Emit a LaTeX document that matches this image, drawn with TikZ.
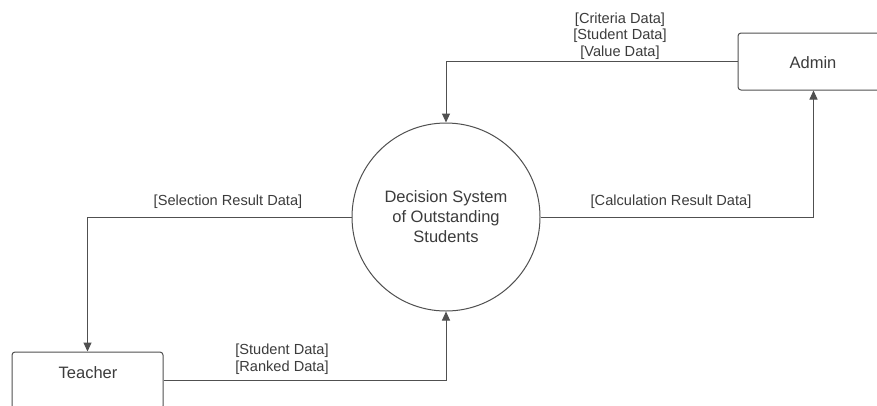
\documentclass[tikz,border=0pt]{standalone}
\usepackage{fontspec}
\setmainfont{Liberation Sans}
\usetikzlibrary{arrows.meta}
\definecolor{linec}{RGB}{80,80,80}
\definecolor{textc}{RGB}{60,60,60}
\tikzset{
  entity/.style={draw=linec, line width=1pt, rounded corners=3pt, minimum width=151pt, minimum height=57pt, inner sep=0pt},
  process/.style={draw=linec, line width=1pt, circle, minimum size=188pt, inner sep=0pt, align=center, text=textc, font=\fontsize{16.5}{20}\selectfont},
  ntext/.style={text=textc, font=\fontsize{16.5}{20}\selectfont, inner sep=0pt},
  flow/.style={draw=linec, line width=1pt, -{Triangle[width=8pt,length=9pt]}},
  flab/.style={text=textc, font=\fontsize{14.6}{16.5}\selectfont, align=center, inner sep=0pt}
}
\begin{document}
\begin{tikzpicture}[x=1pt,y=-1pt]
\useasboundingbox (0,0) rectangle (877,405);
\clip (0,0) rectangle (877,405);
\fill[white] (0,0) rectangle (877,405);
\node[process] (sys) at (446,217) {Decision System\\of Outstanding\\Students};
\node[entity] (admin) at (813.5,61.5) {};
\node[ntext] (admintxt) at (813,63) {Admin};
\node[entity] (teacher) at (87.5,380.5) {};
\node[ntext] (teachertxt) at (88,373) {Teacher};
\draw[flow] (admin.west) -| (sys.north);
\draw[flow] (sys.east) -| (admin.south);
\draw[flow] (sys.west) -| (teacher.north);
\draw[flow] (teacher.east) -| (sys.south);
\node[flab] (l1) at (620,36) {{[Criteria Data]}\\{}{[Student Data]}\\{}{[Value Data]}};
\node[flab] (l2) at (671,202) {[Calculation Result Data]};
\node[flab] (l3) at (228,202) {[Selection Result Data]};
\node[flab] (l4) at (282,359) {{[Student Data]}\\{}{[Ranked Data]}};
\end{tikzpicture}
\end{document}
